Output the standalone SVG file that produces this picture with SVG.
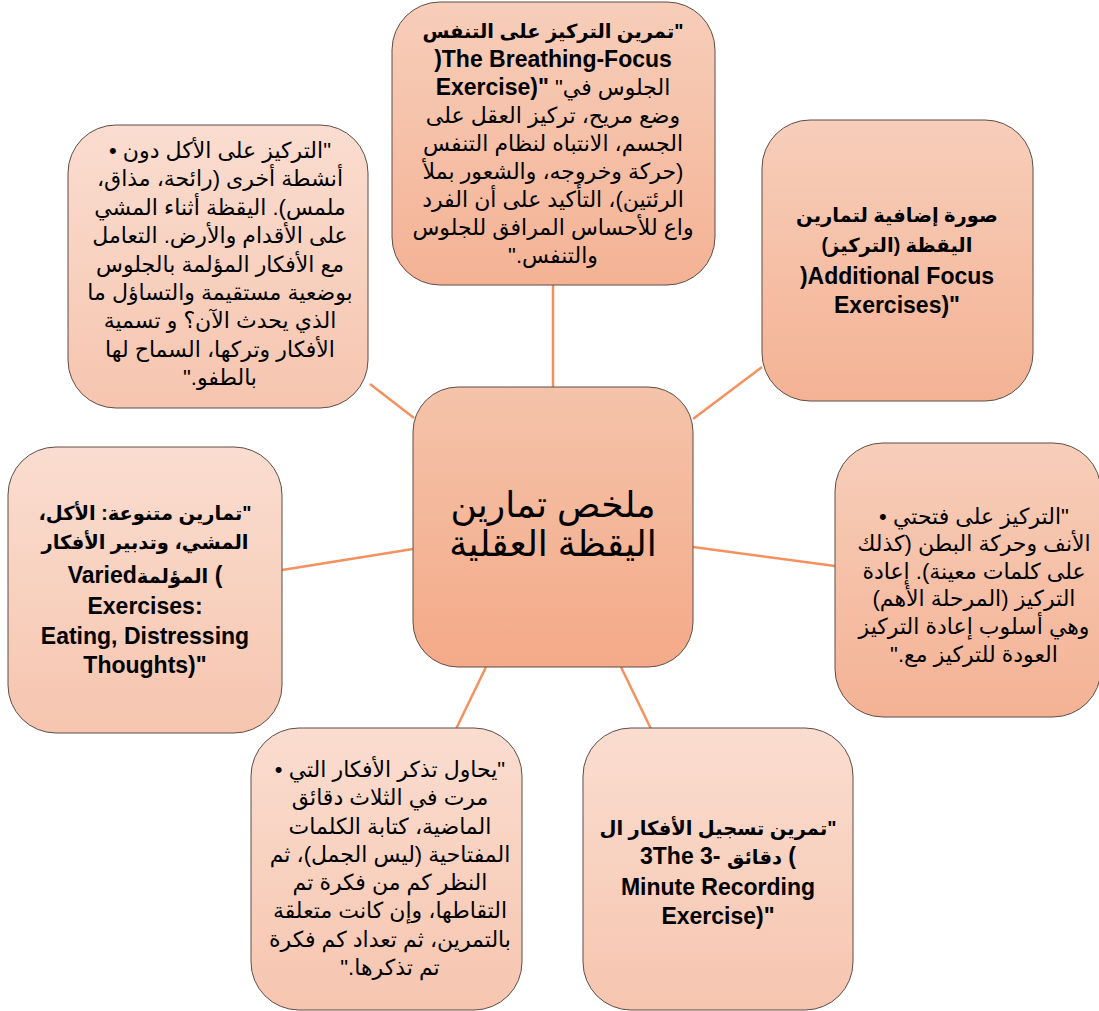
<svg xmlns="http://www.w3.org/2000/svg" width="1099" height="1011" viewBox="0 0 1099 1011">
<defs>
<linearGradient id="gL" x1="0" y1="0" x2="0" y2="1"><stop offset="0" stop-color="#FADDD0"/><stop offset="1" stop-color="#F6C5AF"/></linearGradient>
<linearGradient id="gM" x1="0" y1="0" x2="0" y2="1"><stop offset="0" stop-color="#F7CEBA"/><stop offset="1" stop-color="#F4B294"/></linearGradient>
<linearGradient id="gC" x1="0" y1="0" x2="0" y2="1"><stop offset="0" stop-color="#F4C3AA"/><stop offset="1" stop-color="#F4AA88"/></linearGradient>
<style>
.box{stroke:#5e4d47;stroke-width:1}
.t{font-family:"Liberation Sans","DejaVu Sans",sans-serif;font-size:22px;fill:#000;text-anchor:middle;direction:rtl;unicode-bidi:embed}
.l{direction:ltr}
.b{font-weight:bold;font-size:23px}
.ba{font-weight:bold;font-size:19.5px}
.c{font-size:36px}
.ln{stroke:#F4915E;stroke-width:2.5;fill:none}
</style>
</defs>
<rect width="1099" height="1011" fill="#fff"/>
<g id="connectors">
<line class="ln" x1="553" y1="285" x2="553" y2="387"/>
<line class="ln" x1="693" y1="419" x2="762" y2="367"/>
<line class="ln" x1="693" y1="547" x2="835" y2="566"/>
<line class="ln" x1="621" y1="667" x2="651" y2="729"/>
<line class="ln" x1="486" y1="667" x2="456" y2="729"/>
<line class="ln" x1="282" y1="570" x2="413" y2="549"/>
<line class="ln" x1="370" y1="384" x2="414" y2="418"/>
</g>
<g id="center">
<rect class="box" x="413" y="387" width="280" height="280" rx="45" fill="url(#gC)"/>
<text class="t c" x="553" y="517">ملخص تمارين</text>
<text class="t c" x="553" y="556">اليقظة العقلية</text>
</g>
<g id="node-top">
<rect class="box" x="392" y="2" width="323" height="283" rx="48" fill="url(#gM)"/>
<text class="t ba" x="553" y="38">"تمرين التركيز على التنفس</text>
<text class="t b l" x="553" y="67">)The Breathing-Focus</text>
<text class="t l" x="553" y="95"><tspan font-weight="bold" font-size="23">Exercise)"</tspan> "الجلوس في</text>
<text class="t" x="553" y="123">وضع مريح، تركيز العقل على</text>
<text class="t" x="553" y="151">الجسم، الانتباه لنظام التنفس</text>
<text class="t" x="553" y="179">(حركة وخروجه، والشعور بملأ</text>
<text class="t" x="553" y="207">الرئتين)، التأكيد على أن الفرد</text>
<text class="t" x="553" y="235">واع للأحساس المرافق للجلوس</text>
<text class="t" x="553" y="263">والتنفس."</text>
</g>
<g id="node-top-left">
<rect class="box" x="68" y="125" width="300" height="283" rx="48" fill="url(#gL)"/>
<text class="t" x="220" y="158">"التركيز على الأكل دون •</text>
<text class="t" x="220" y="186">أنشطة أخرى (رائحة، مذاق،</text>
<text class="t" x="220" y="215">ملمس). اليقظة أثناء المشي</text>
<text class="t" x="220" y="243">على الأقدام والأرض. التعامل</text>
<text class="t" x="220" y="272">مع الأفكار المؤلمة بالجلوس</text>
<text class="t" x="220" y="300">بوضعية مستقيمة والتساؤل ما</text>
<text class="t" x="220" y="328">الذي يحدث الآن؟ و تسمية</text>
<text class="t" x="220" y="357">الأفكار وتركها، السماح لها</text>
<text class="t" x="220" y="385">بالطفو."</text>
</g>
<g id="node-right-top">
<rect class="box" x="762" y="120" width="271" height="281" rx="48" fill="url(#gM)"/>
<text class="t ba" x="897" y="222">صورة إضافية لتمارين</text>
<text class="t ba" x="897" y="252">اليقظة (التركيز)</text>
<text class="t b l" x="897" y="284">)Additional Focus</text>
<text class="t b l" x="897" y="313">Exercises)"</text>
</g>
<g id="node-right">
<rect class="box" x="835" y="443" width="266" height="274" rx="48" fill="url(#gM)"/>
<text class="t" x="974" y="524">"التركيز على فتحتي •</text>
<text class="t" x="974" y="551">الأنف وحركة البطن (كذلك</text>
<text class="t" x="974" y="579">على كلمات معينة). إعادة</text>
<text class="t" x="974" y="606">التركيز (المرحلة الأهم)</text>
<text class="t" x="974" y="634">وهي أسلوب إعادة التركيز</text>
<text class="t" x="974" y="662">العودة للتركيز مع."</text>
</g>
<g id="node-bottom-right">
<rect class="box" x="583" y="728" width="270" height="282" rx="48" fill="url(#gL)"/>
<text class="t ba" x="718" y="835">"تمرين تسجيل الأفكار ال</text>
<text class="t b l" x="718" y="864">3The 3- <tspan font-size="19.5">دقائق</tspan> (</text>
<text class="t b l" x="718" y="895">Minute Recording</text>
<text class="t b l" x="718" y="924">Exercise)"</text>
</g>
<g id="node-bottom-left">
<rect class="box" x="251" y="728" width="271" height="282" rx="48" fill="url(#gL)"/>
<text class="t" x="390" y="777">"يحاول تذكر الأفكار التي •</text>
<text class="t" x="390" y="805">مرت في الثلاث دقائق</text>
<text class="t" x="390" y="834">الماضية، كتابة الكلمات</text>
<text class="t" x="390" y="862">المفتاحية (ليس الجمل)، ثم</text>
<text class="t" x="390" y="890">النظر كم من فكرة تم</text>
<text class="t" x="390" y="918">التقاطها، وإن كانت متعلقة</text>
<text class="t" x="390" y="947">بالتمرين، ثم تعداد كم فكرة</text>
<text class="t" x="390" y="975">تم تذكرها."</text>
</g>
<g id="node-left">
<rect class="box" x="8" y="447" width="274" height="286" rx="48" fill="url(#gL)"/>
<text class="t ba" x="145" y="520">"تمارين متنوعة: الأكل،</text>
<text class="t ba" x="145" y="549">المشي، وتدبير الأفكار</text>
<text class="t b l" x="145" y="583">Varied<tspan font-size="19.5">المؤلمة</tspan> (</text>
<text class="t b l" x="145" y="614">Exercises:</text>
<text class="t b l" x="145" y="644">Eating, Distressing</text>
<text class="t b l" x="145" y="673">Thoughts)"</text>
</g>
</svg>
